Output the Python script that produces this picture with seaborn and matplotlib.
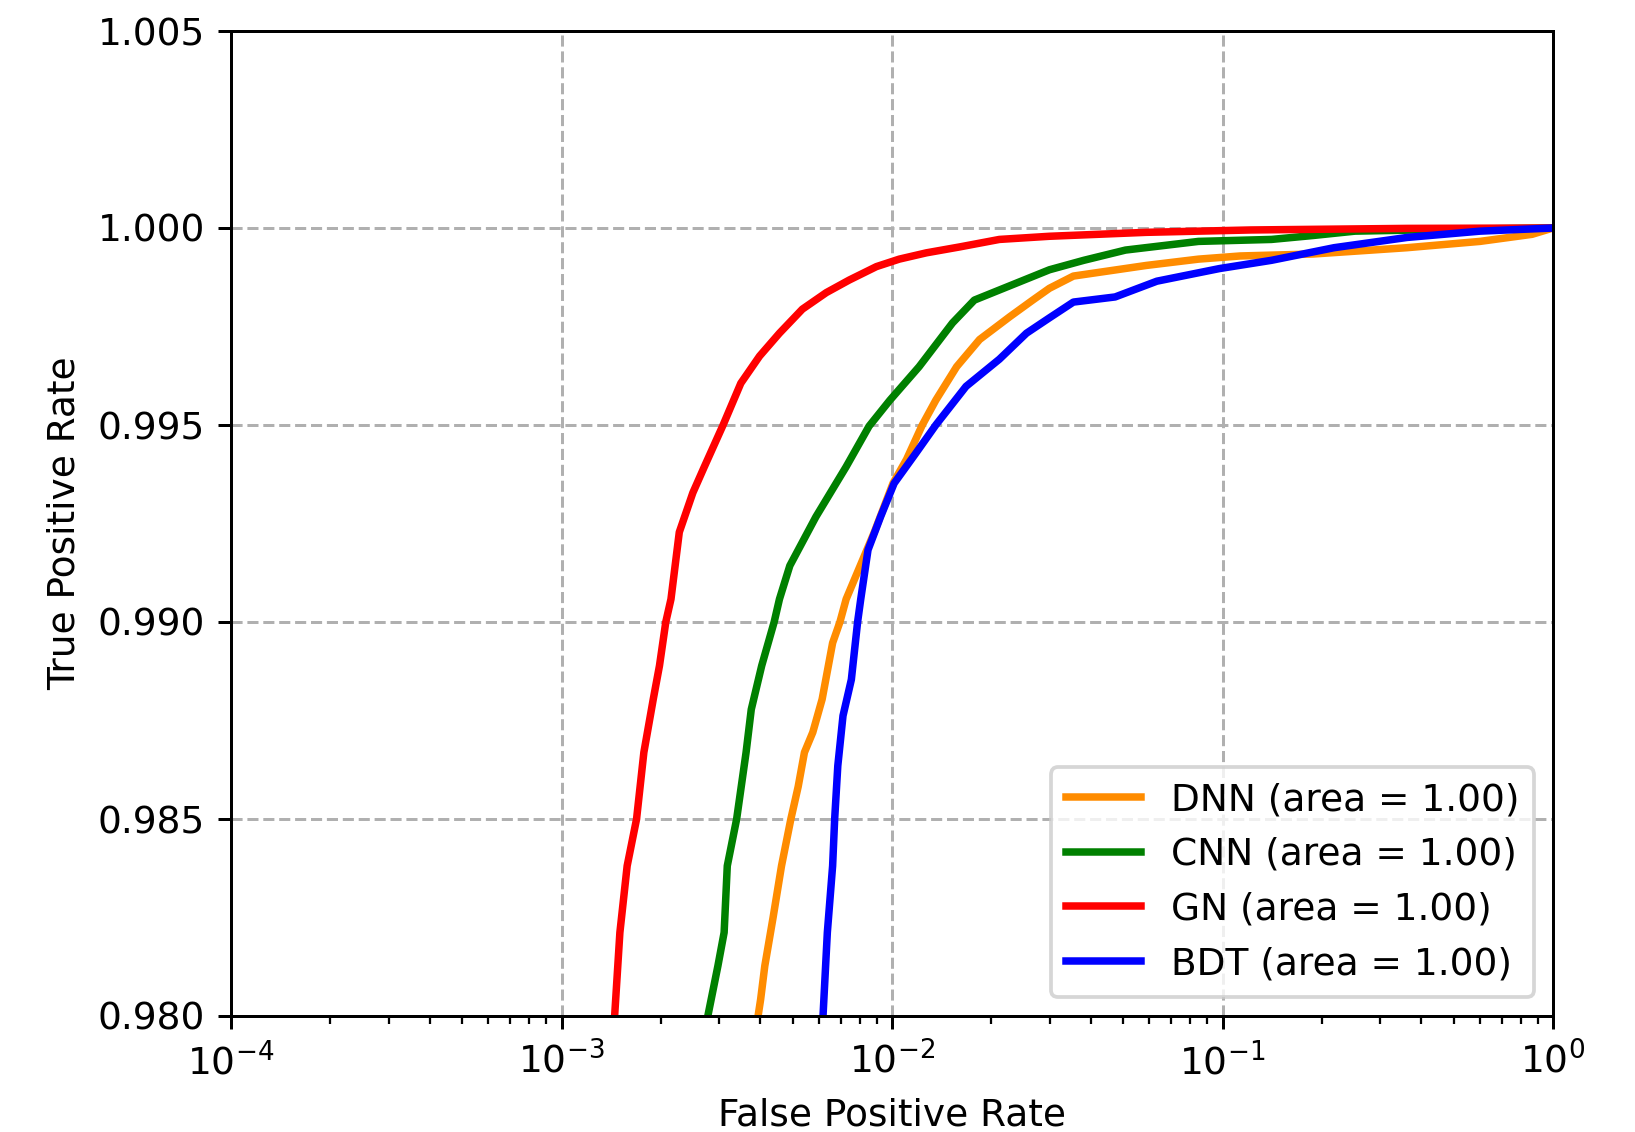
import numpy as np
import pandas as pd
import matplotlib
matplotlib.use("Agg")
import matplotlib.pyplot as plt
from matplotlib.ticker import FormatStrFormatter
import seaborn as sns

# ROC curves (FPR on log axis, TPR zoomed near 1)
models = ["DNN", "CNN", "GN", "BDT"]
colors = ["darkorange", "green", "red", "blue"]
areas = [1.00, 1.00, 1.00, 1.00]

dnn_fpr = [3.947e-3, 4.004e-3, 4.122e-3, 4.369e-3, 4.631e-3, 4.943e-3, 5.201e-3,
           5.433e-3, 5.759e-3, 6.146e-3, 6.612e-3, 6.957e-3, 7.265e-3, 8.841e-3,
           1.007e-2, 1.107e-2, 1.235e-2, 1.357e-2, 1.569e-2, 1.841e-2, 2.273e-2,
           2.666e-2, 2.995e-2, 3.539e-2, 5.884e-2, 8.462e-2, 0.1131, 0.1881,
           0.3617, 0.6014, 0.8647, 1.0]
dnn_tpr = [0.98008, 0.98042, 0.98127, 0.98251, 0.98381, 0.98500, 0.98582,
           0.98669, 0.98720, 0.98804, 0.98947, 0.99000, 0.99058, 0.99228,
           0.99352, 0.99413, 0.99500, 0.99563, 0.99648, 0.99717, 0.99775,
           0.99817, 0.99847, 0.99878, 0.99905, 0.99921, 0.99929, 0.99934,
           0.99950, 0.99966, 0.99984, 1.0]

cnn_fpr = [2.784e-3, 2.973e-3, 3.105e-3, 3.174e-3, 3.388e-3, 3.618e-3, 3.751e-3,
           4.034e-3, 4.400e-3, 4.565e-3, 4.908e-3, 5.885e-3, 7.265e-3, 8.523e-3,
           9.856e-3, 1.208e-2, 1.524e-2, 1.775e-2, 2.995e-2, 3.805e-2, 5.088e-2,
           8.462e-2, 0.1407, 0.1881, 0.2516, 0.5201, 1.0]
cnn_tpr = [0.98008, 0.98127, 0.98212, 0.98381, 0.98500, 0.98669, 0.98778,
           0.98889, 0.99000, 0.99058, 0.99143, 0.99267, 0.99394, 0.99497,
           0.99563, 0.99648, 0.99759, 0.99817, 0.99894, 0.99918, 0.99944,
           0.99966, 0.99971, 0.99981, 0.99992, 0.99997, 1.0]

gn_fpr = [1.448e-3, 1.502e-3, 1.580e-3, 1.687e-3, 1.775e-3, 1.895e-3, 1.979e-3,
          2.068e-3, 2.144e-3, 2.272e-3, 2.497e-3, 2.705e-3, 3.083e-3, 3.488e-3,
          3.976e-3, 4.565e-3, 5.355e-3, 6.326e-3, 7.426e-3, 8.970e-3, 1.052e-2,
          1.271e-2, 1.603e-2, 2.113e-2, 2.995e-2, 5.884e-2, 0.1217, 0.3617, 1.0]
gn_tpr = [0.98000, 0.98212, 0.98381, 0.98500, 0.98669, 0.98804, 0.98889,
          0.99000, 0.99058, 0.99228, 0.99328, 0.99394, 0.99500, 0.99606,
          0.99675, 0.99733, 0.99794, 0.99836, 0.99868, 0.99902, 0.99921,
          0.99937, 0.99952, 0.99971, 0.99979, 0.99989, 0.99995, 0.99999, 1.0]

bdt_fpr = [6.191e-3, 6.373e-3, 6.612e-3, 6.707e-3, 6.855e-3, 7.108e-3, 7.534e-3,
           7.869e-3, 8.043e-3, 8.461e-3, 9.234e-3, 1.015e-2, 1.182e-2, 1.357e-2,
           1.675e-2, 2.113e-2, 2.552e-2, 2.995e-2, 3.539e-2, 4.733e-2, 6.330e-2,
           9.784e-2, 0.1407, 0.2176, 0.3617, 0.6014, 1.0]
bdt_tpr = [0.98008, 0.98212, 0.98381, 0.98500, 0.98635, 0.98762, 0.98854,
           0.99000, 0.99058, 0.99183, 0.99267, 0.99352, 0.99429, 0.99500,
           0.99598, 0.99667, 0.99733, 0.99772, 0.99812, 0.99825, 0.99865,
           0.99897, 0.99918, 0.99950, 0.99976, 0.99992, 1.0]

fprs = [dnn_fpr, cnn_fpr, gn_fpr, bdt_fpr]
tprs = [dnn_tpr, cnn_tpr, gn_tpr, bdt_tpr]

# long-form table for seaborn
frames = []
for m, a, f, t in zip(models, areas, fprs, tprs):
    frames.append(pd.DataFrame({"fpr": f, "tpr": t,
                                "label": f"{m} (area = {a:.2f})"}))
df = pd.concat(frames, ignore_index=True)
labels = [f"{m} (area = {a:.2f})" for m, a in zip(models, areas)]
palette = dict(zip(labels, colors))

plt.rcParams["font.family"] = "DejaVu Sans"

DPI = 270
fig, ax = plt.subplots(figsize=(1635 / DPI, 1132 / DPI), dpi=DPI)
fig.subplots_adjust(left=231 / 1635, right=1553 / 1635,
                    top=1 - 31 / 1132, bottom=1 - 1016 / 1132)

sns.lineplot(data=df, x="fpr", y="tpr", hue="label", hue_order=labels,
             palette=palette, sort=False, estimator=None, lw=2, ax=ax)

ax.set_xscale("log")
ax.set_xlim(1e-4, 1)
ax.set_ylim(0.98, 1.005)
ax.set_yticks(np.arange(0.980, 1.0051, 0.005))
ax.yaxis.set_major_formatter(FormatStrFormatter("%.3f"))
ax.grid(True, which="major", linestyle="--", color="#b0b0b0", lw=0.8)
ax.set_axisbelow(True)
ax.set_xlabel("False Positive Rate")
ax.set_ylabel("True Positive Rate")

sns.move_legend(ax, "lower right", title=None)
for line in ax.get_legend().get_lines():
    line.set_linewidth(2)

fig.savefig("out.png", dpi=DPI)
